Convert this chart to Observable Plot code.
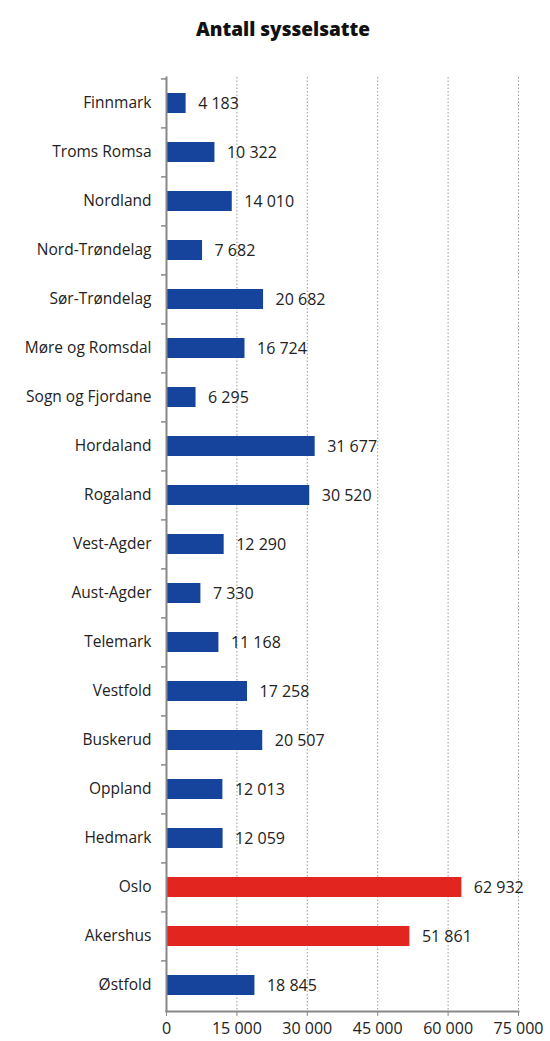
<!DOCTYPE html>
<html><head><meta charset="utf-8">
<script src="https://cdn.jsdelivr.net/npm/d3@7"></script>
<script src="https://cdn.jsdelivr.net/npm/@observablehq/plot@0.6"></script>
<style>
body{margin:0;background:#fff;font-family:"Open Sans",sans-serif;}
#title{height:60px;line-height:58px;text-align:center;font-weight:800;font-size:19px;color:#111;padding-left:16px;box-sizing:border-box;}
</style></head><body>
<div id="title">Antall sysselsatte</div>
<div id="chart"></div>
<script>
const fylker = ["Finnmark","Troms Romsa","Nordland","Nord-Trøndelag","Sør-Trøndelag","Møre og Romsdal","Sogn og Fjordane","Hordaland","Rogaland","Vest-Agder","Aust-Agder","Telemark","Vestfold","Buskerud","Oppland","Hedmark","Oslo","Akershus","Østfold"];
const sysselsatte = [4183,10322,14010,7682,20682,16724,6295,31677,30520,12290,7330,11168,17258,20507,12013,12059,62932,51861,18845];
const highlighted = ["Oslo","Akershus"];
const xTicks = [0,15000,30000,45000,60000,75000];

const data = fylker.map((f,i)=>({fylke:f, value:sysselsatte[i], hl: highlighted.includes(f)}));
const fmt = v => d3.format(",")(v).replace(/,/g," ");

const chart = Plot.plot({
  width:550, height:981,
  marginTop:17, marginBottom:30, marginLeft:166, marginRight:32,
  style:{fontFamily:"'Open Sans',sans-serif", fontSize:"15px", color:"#222"},
  x:{domain:[0,75000], ticks:xTicks, label:null},
  y:{domain:fylker, paddingInner:0.6, paddingOuter:0.3, label:null},
  marks:[
    Plot.gridX(xTicks.slice(1), {stroke:"#9a9a9a", strokeOpacity:1, strokeDasharray:"1.5,2"}),
    Plot.barX(data, {y:"fylke", x:"value", fill:d=>d.hl?"#e2261f":"#16449c"}),
    Plot.text(data, {y:"fylke", x:"value", text:d=>fmt(d.value), textAnchor:"start", dx:12, fill:"#222", fontSize:16}),
    Plot.ruleY(fylker, {y:d=>d, x1:0, x2:0, insetLeft:-5, dy:-24.6, stroke:"#888", strokeWidth:1.5}),
    Plot.frame({anchor:"left", stroke:"#888", strokeWidth:2}),
    Plot.frame({anchor:"bottom", stroke:"#888", strokeWidth:2}),
    Plot.axisX({ticks:xTicks, tickFormat:fmt, tickSize:5, tickPadding:6, stroke:"#888", fontSize:16, label:null}),
    Plot.axisY({tickSize:0, tickPadding:15, fontSize:15.5, label:null})
  ]
});
document.getElementById("chart").appendChild(chart);
</script>
</body></html>
